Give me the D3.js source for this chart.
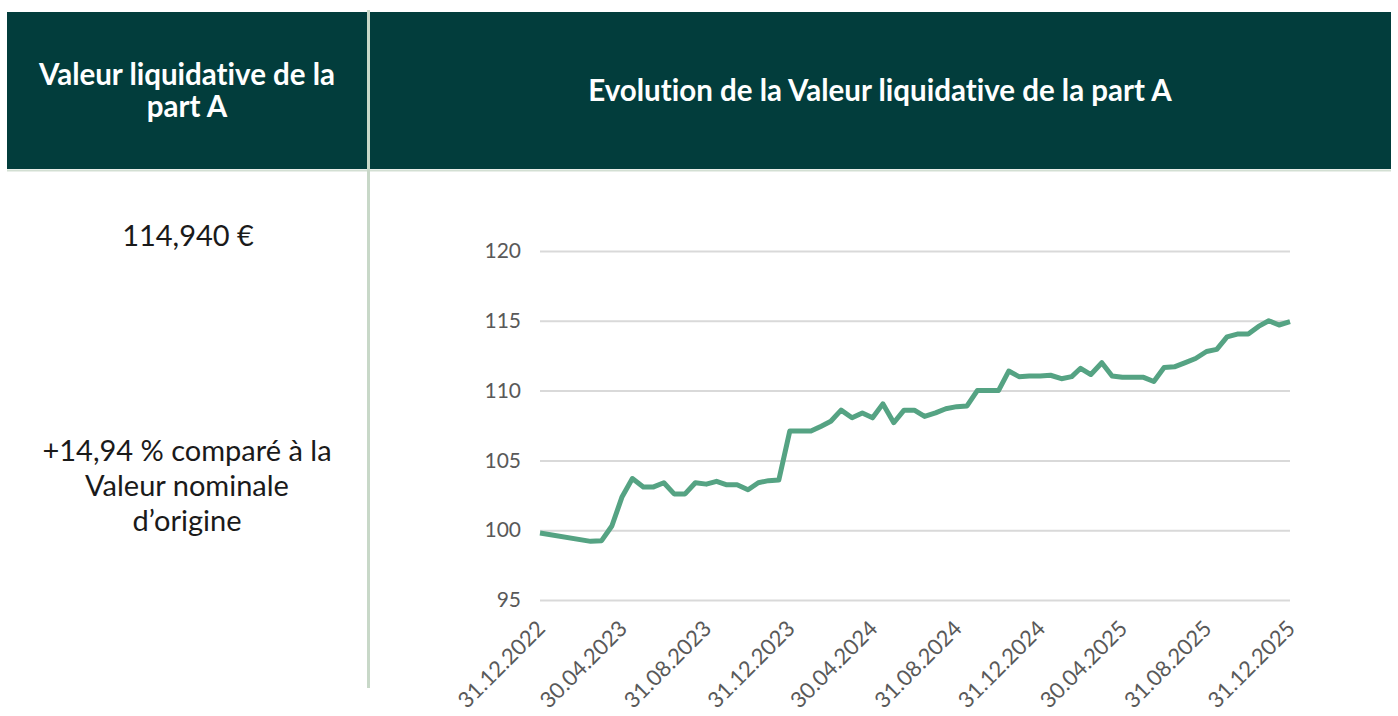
<!DOCTYPE html>
<html>

<head>
    <meta charset="utf-8">
    <title>valeur_liquidative_part_a</title>
    <style>
        body { margin: 0; background: #fff; }
        text { font-family: Lato, sans-serif; font-variant-ligatures: none; }
    </style>
</head>

<body>
</body>

<script type="text/javascript" src="https://d3js.org/d3.v7.min.js"></script>
<script type="text/javascript">
    // dates (dd.mm.yyyy) and values of the part A
    var dates = ["31.12.2022", "15.03.2023", "31.03.2023", "15.04.2023", "30.04.2023", "15.05.2023", "31.05.2023",
        "15.06.2023", "30.06.2023", "15.07.2023", "31.07.2023", "15.08.2023", "31.08.2023", "15.09.2023",
        "30.09.2023", "15.10.2023", "31.10.2023", "15.11.2023", "30.11.2023", "15.12.2023", "31.12.2023",
        "15.01.2024", "31.01.2024", "15.02.2024", "29.02.2024", "15.03.2024", "31.03.2024", "15.04.2024",
        "30.04.2024", "15.05.2024", "31.05.2024", "15.06.2024", "30.06.2024", "15.07.2024", "31.07.2024",
        "15.08.2024", "31.08.2024", "15.09.2024", "30.09.2024", "15.10.2024", "31.10.2024", "15.11.2024",
        "30.11.2024", "15.12.2024", "31.12.2024", "15.01.2025", "31.01.2025", "15.02.2025", "28.02.2025",
        "15.03.2025", "31.03.2025", "15.04.2025", "30.04.2025", "15.05.2025", "31.05.2025", "15.06.2025",
        "30.06.2025", "15.07.2025", "31.07.2025", "15.08.2025", "31.08.2025", "15.09.2025", "30.09.2025",
        "15.10.2025", "31.10.2025", "15.11.2025", "30.11.2025", "15.12.2025", "31.12.2025"];
    var values = [99.8, 99.2, 99.25, 100.3, 102.4, 103.7, 103.1,
        103.1, 103.4, 102.6, 102.6, 103.4, 103.3, 103.5,
        103.25, 103.25, 102.9, 103.4, 103.55, 103.6, 107.1,
        107.1, 107.1, 107.45, 107.8, 108.6, 108.05, 108.4,
        108.05, 109.05, 107.7, 108.6, 108.6, 108.15, 108.4,
        108.7, 108.85, 108.9, 110.0, 110.0, 110.0, 111.4,
        111.0, 111.05, 111.05, 111.1, 110.85, 111.0, 111.6,
        111.15, 112.0, 111.05, 110.95, 110.95, 110.95, 110.65,
        111.65, 111.7, 112.0, 112.3, 112.8, 112.95, 113.85,
        114.05, 114.05, 114.6, 115.0, 114.7, 114.94];
    var xTickLabels = ["31.12.2022", "30.04.2023", "31.08.2023", "31.12.2023", "30.04.2024", "31.08.2024",
        "31.12.2024", "30.04.2025", "31.08.2025", "31.12.2025"];
    var yTicks = [95, 100, 105, 110, 115, 120];

    var headerLeft = ["Valeur liquidative de la", "part A"];
    var headerRight = "Evolution de la Valeur liquidative de la part A";
    var currentValue = "114,940 €";
    var compareText = ["+14,94 % comparé à la", "Valeur nominale", "d\u2019origine"];

    var parseDate = d3.timeParse("%d.%m.%Y");
    var dataset = dates.map(function (d, i) {
        return { date: parseDate(d), value: values[i] };
    });

    var width = 1398, height = 716;
    var svg = d3.select('body')
        .append('svg')
        .attr('width', width).attr('height', height);

    // header boxes
    svg.append("rect")
        .attr("x", 7).attr("y", 12).attr("width", 361).attr("height", 157)
        .attr("fill", "#023d3c");
    svg.append("rect")
        .attr("x", 370).attr("y", 12).attr("width", 1021).attr("height", 157)
        .attr("fill", "#023d3c");
    svg.append("line")
        .attr("x1", 7).attr("x2", 1391).attr("y1", 170.5).attr("y2", 170.5)
        .attr("stroke", "#d3dfd3").attr("stroke-width", 2);
    svg.append("line")
        .attr("x1", 368.5).attr("x2", 368.5).attr("y1", 10).attr("y2", 688)
        .attr("stroke", "#c8d8c8").attr("stroke-width", 3);

    svg.selectAll(".hleft")
        .data(headerLeft)
        .enter()
        .append("text")
        .attr("class", "hleft")
        .text(function (d) { return d; })
        .attr("x", 187).attr("y", function (d, i) { return 85 + i * 32; })
        .attr("text-anchor", "middle")
        .attr("font-size", "29.5px").attr("font-weight", "bold")
        .attr("fill", "#ffffff");
    svg.append("text")
        .text(headerRight)
        .attr("x", 880).attr("y", 101)
        .attr("text-anchor", "middle")
        .attr("font-size", "29.5px").attr("font-weight", "bold")
        .attr("fill", "#ffffff");

    // left column texts
    svg.append("text")
        .text(currentValue)
        .attr("x", 188).attr("y", 246)
        .attr("text-anchor", "middle")
        .attr("font-size", "29px")
        .attr("fill", "#1a1a1a");
    svg.selectAll(".comp")
        .data(compareText)
        .enter()
        .append("text")
        .attr("class", "comp")
        .text(function (d) { return d; })
        .attr("x", 187).attr("y", function (d, i) { return 461 + i * 35; })
        .attr("text-anchor", "middle")
        .attr("font-size", "29px")
        .attr("fill", "#1a1a1a");

    // chart
    var x = d3.scaleTime()
        .domain([parseDate(xTickLabels[0]), parseDate(xTickLabels[xTickLabels.length - 1])])
        .range([540, 1290]);
    var y = d3.scaleLinear()
        .domain([95, 120])
        .range([600, 251]);

    var yAxis = svg.append("g")
        .attr("transform", "translate(540,0)")
        .call(d3.axisLeft(y).tickValues(yTicks).tickSize(-750).tickPadding(19));
    yAxis.select(".domain").remove();
    yAxis.selectAll(".tick line").attr("stroke", "#d9d9d9").attr("stroke-width", 2);
    yAxis.selectAll(".tick text")
        .attr("font-family", "Lato, sans-serif")
        .attr("font-size", "21px").attr("fill", "#595959");

    var xAxis = svg.append("g")
        .attr("transform", "translate(0,600)")
        .call(d3.axisBottom(x)
            .tickValues(xTickLabels.map(parseDate))
            .tickFormat(d3.timeFormat("%d.%m.%Y"))
            .tickSize(0));
    xAxis.select(".domain").remove();
    xAxis.selectAll(".tick text")
        .attr("y", 0).attr("dy", 0)
        .attr("transform", "translate(6,30) rotate(-45)")
        .attr("text-anchor", "end")
        .attr("font-family", "Lato, sans-serif")
        .attr("font-size", "22px").attr("fill", "#595959");

    var line = d3.line()
        .x(function (d) { return x(d.date); })
        .y(function (d) { return y(d.value); });

    svg.append("path")
        .datum(dataset)
        .attr("d", line)
        .attr("fill", "none")
        .attr("stroke", "#55a383")
        .attr("stroke-width", 5)
        .attr("stroke-linejoin", "round");
</script>

</html>
